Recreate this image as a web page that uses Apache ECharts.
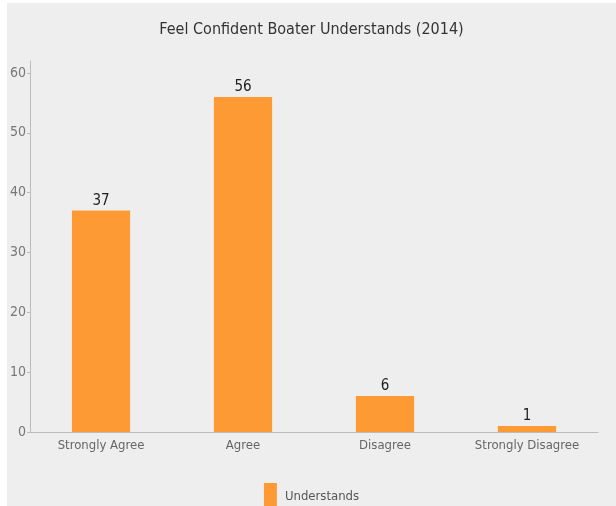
<!DOCTYPE html>
<html>
<head>
<meta charset="utf-8">
<script src="https://cdn.jsdelivr.net/npm/echarts@6/dist/echarts.min.js"></script>
<style>
  html, body { margin: 0; padding: 0; background: #fff; }
  #chart { position: absolute; left: 7px; top: 3px; width: 609px; height: 503px; background: #eeeeee; }
</style>
</head>
<body>
<div id="chart"></div>
<script>
const categories = ['Strongly Agree', 'Agree', 'Disagree', 'Strongly Disagree']
const understands = [37, 56, 6, 1]
const seriesName = 'Understands'
const titleText = 'Feel Confident Boater Understands (2014)'

const font = '"DejaVu Sans Condensed", "Liberation Sans Narrow", sans-serif'
const chart = echarts.init(document.getElementById('chart'))
chart.setOption({
    backgroundColor: '#eeeeee',
    animation: false,
    title: {
        text: titleText,
        left: 'center',
        top: 14,
        textStyle: { fontFamily: font, fontSize: 16, fontWeight: 'normal', color: '#333' }
    },
    legend: {
        data: [seriesName],
        bottom: -10,
        left: 'center',
        itemWidth: 13,
        itemHeight: 28,
        icon: 'rect',
        textStyle: { fontFamily: font, fontSize: 13, color: '#555', padding: [0, 0, 0, 3] }
    },
    grid: { left: 16, right: 18, top: 58, bottom: 74, containLabel: false },
    xAxis: {
        type: 'category',
        data: categories,
        axisLine: { lineStyle: { color: '#bbb' } },
        axisTick: { alignWithLabel: true, length: 6, lineStyle: { color: '#bbb' } },
        axisLabel: { interval: 0, fontFamily: font, fontSize: 13, color: '#666', margin: 7 }
    },
    yAxis: {
        type: 'value',
        min: 0,
        max: 62,
        interval: 10,
        splitLine: { show: false },
        axisLine: { show: true, lineStyle: { color: '#bbb' } },
        axisTick: { show: true, length: 3, lineStyle: { color: '#bbb' } },
        axisLabel: { fontFamily: font, fontSize: 14, color: '#777', margin: 4, showMaxLabel: false }
    },
    series: [{
        name: seriesName,
        type: 'bar',
        data: understands,
        barWidth: '41%',
        itemStyle: { color: '#fe9a33' },
        label: {
            show: true,
            position: 'top',
            distance: 2,
            fontFamily: font,
            fontSize: 15,
            color: '#222'
        }
    }]
})
</script>
</body>
</html>
